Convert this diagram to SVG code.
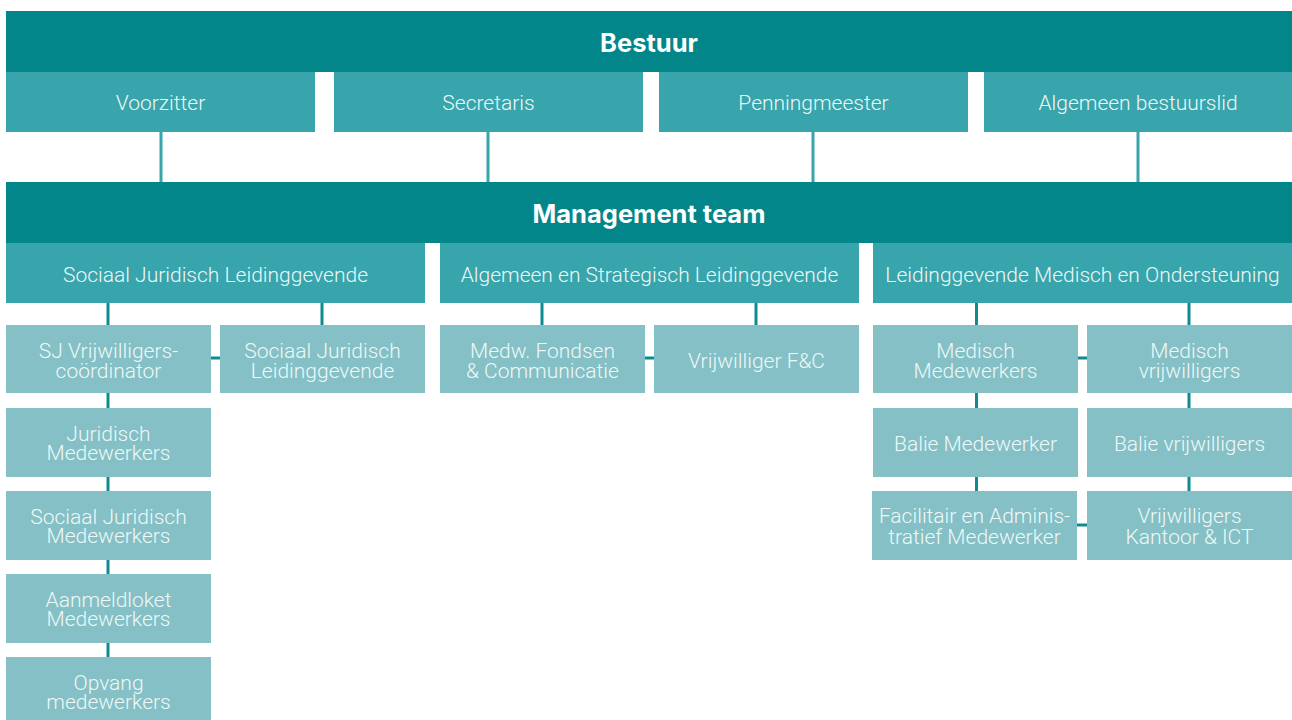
<svg xmlns="http://www.w3.org/2000/svg" width="1292" height="720" viewBox="0 0 1292 720">
<style>
.dark{fill:#02868a}
.mid{fill:#38a4ab}
.light{fill:#84c0c5}
.t{font-family:Roboto,"Liberation Sans",sans-serif;font-weight:300;font-size:21px;fill:#eef8f8;text-anchor:middle}
.b{font-family:Inter,"Liberation Sans",sans-serif;font-weight:700;font-size:25.5px;fill:#ffffff;text-anchor:middle}
.cu{stroke:#38a4ab;stroke-width:3;fill:none}
.cl{stroke:#0e8b91;stroke-width:3;fill:none}
</style>
<rect width="1292" height="720" fill="#ffffff"/>
<g id="connectors">
<path class="cu" d="M161 132V182M488 132V182M813 132V182M1138 132V182"/>
<path class="cl" d="M108 303V325M322 303V325M542 303V325M756 303V325M976.5 303V325M1189 303V325"/>
<path class="cl" d="M211 358H220M645 358H654M1078 358H1087M1077 525H1087"/>
<path class="cl" d="M108 393V408M108 477V491M108 560V574M108 643V657"/>
<path class="cl" d="M976.5 393V408M976.5 477V491M1189 393V408M1189 477V491"/>
</g>
<g id="bestuur"><rect class="dark" x="6" y="11" width="1286" height="61"/><text class="b" x="649" y="52">Bestuur</text></g>
<g id="voorzitter"><rect class="mid" x="6" y="72" width="309" height="60"/><text class="t" x="160.5" y="110">Voorzitter</text></g>
<g id="secretaris"><rect class="mid" x="334" y="72" width="309" height="60"/><text class="t" x="488.5" y="110">Secretaris</text></g>
<g id="penningmeester"><rect class="mid" x="659" y="72" width="309" height="60"/><text class="t" x="813.5" y="110">Penningmeester</text></g>
<g id="bestuurslid"><rect class="mid" x="984" y="72" width="308" height="60"/><text class="t" x="1138" y="110">Algemeen bestuurslid</text></g>
<g id="management"><rect class="dark" x="6" y="182" width="1286" height="61"/><text class="b" x="649" y="223">Management team</text></g>
<g id="sjl"><rect class="mid" x="6" y="243" width="419" height="60"/><text class="t" x="215.5" y="282">Sociaal Juridisch Leidinggevende</text></g>
<g id="asl"><rect class="mid" x="440" y="243" width="419" height="60"/><text class="t" x="649.5" y="282">Algemeen en Strategisch Leidinggevende</text></g>
<g id="lmo"><rect class="mid" x="873" y="243" width="419" height="60"/><text class="t" x="1082.5" y="282">Leidinggevende Medisch en Ondersteuning</text></g>
<g id="sjv"><rect class="light" x="6" y="325" width="205" height="68"/><text class="t" x="108.5" y="358">SJ Vrijwilligers-</text><text class="t" x="108.5" y="378">coördinator</text></g>
<g id="sjl2"><rect class="light" x="220" y="325" width="205" height="68"/><text class="t" x="322.5" y="358">Sociaal Juridisch</text><text class="t" x="322.5" y="378">Leidinggevende</text></g>
<g id="fondsen"><rect class="light" x="440" y="325" width="205" height="68"/><text class="t" x="542.5" y="358">Medw. Fondsen</text><text class="t" x="542.5" y="378">&amp; Communicatie</text></g>
<g id="vfc"><rect class="light" x="654" y="325" width="205" height="68"/><text class="t" x="756.5" y="368">Vrijwilliger F&amp;C</text></g>
<g id="medmw"><rect class="light" x="873" y="325" width="205" height="68"/><text class="t" x="975.5" y="358">Medisch</text><text class="t" x="975.5" y="378">Medewerkers</text></g>
<g id="medvr"><rect class="light" x="1087" y="325" width="205" height="68"/><text class="t" x="1189.5" y="358">Medisch</text><text class="t" x="1189.5" y="378">vrijwilligers</text></g>
<g id="jurmw"><rect class="light" x="6" y="408" width="205" height="69"/><text class="t" x="108.5" y="441">Juridisch</text><text class="t" x="108.5" y="460">Medewerkers</text></g>
<g id="sjmw"><rect class="light" x="6" y="491" width="205" height="69"/><text class="t" x="108.5" y="524">Sociaal Juridisch</text><text class="t" x="108.5" y="543">Medewerkers</text></g>
<g id="aanmeld"><rect class="light" x="6" y="574" width="205" height="69"/><text class="t" x="108.5" y="607">Aanmeldloket</text><text class="t" x="108.5" y="626">Medewerkers</text></g>
<g id="opvang"><rect class="light" x="6" y="657" width="205" height="69"/><text class="t" x="108.5" y="690">Opvang</text><text class="t" x="108.5" y="709">medewerkers</text></g>
<g id="baliemw"><rect class="light" x="873" y="408" width="205" height="69"/><text class="t" x="975.5" y="451">Balie Medewerker</text></g>
<g id="balievr"><rect class="light" x="1087" y="408" width="205" height="69"/><text class="t" x="1189.5" y="451">Balie vrijwilligers</text></g>
<g id="facilitair"><rect class="light" x="872" y="491" width="205" height="69"/><text class="t" x="974.5" y="523">Facilitair en Adminis-</text><text class="t" x="974.5" y="544">tratief Medewerker</text></g>
<g id="kantoor"><rect class="light" x="1087" y="491" width="205" height="69"/><text class="t" x="1189.5" y="523">Vrijwilligers</text><text class="t" x="1189.5" y="544">Kantoor &amp; ICT</text></g>
</svg>
